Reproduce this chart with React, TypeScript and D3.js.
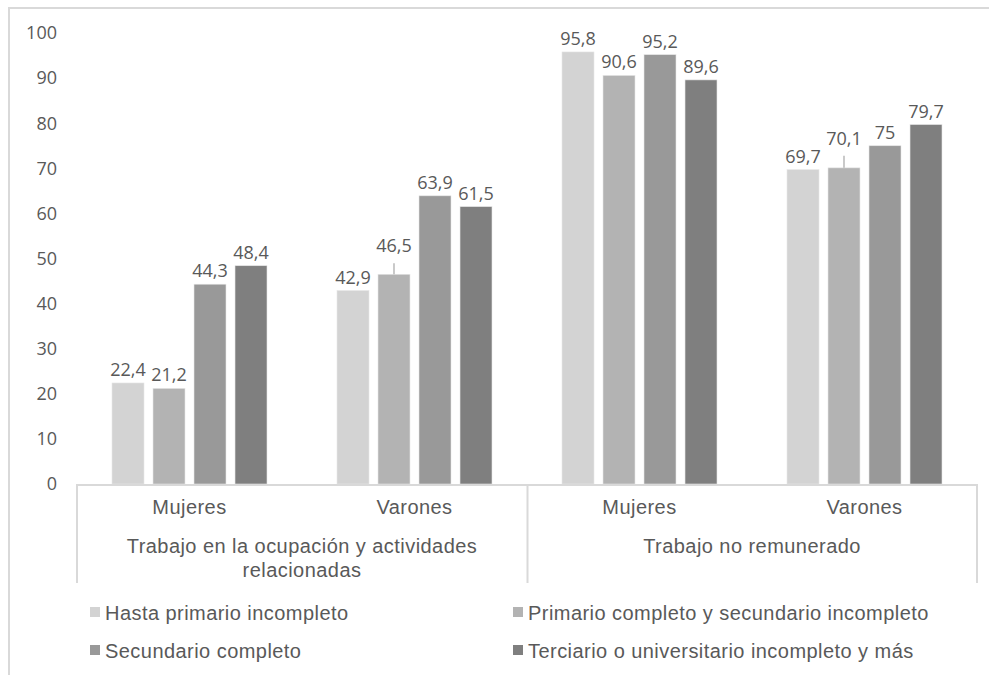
import * as React from 'react';
import * as d3 from 'd3';

// chart data
const groups = ['Trabajo en la ocupación y actividades relacionadas', 'Trabajo no remunerado'];
const categories = ['Mujeres', 'Varones', 'Mujeres', 'Varones'];
const series = [
  'Hasta primario incompleto',
  'Primario completo y secundario incompleto',
  'Secundario completo',
  'Terciario o universitario incompleto y más',
];
const hastaPrimario = [22.4, 42.9, 95.8, 69.7];
const primarioCompleto = [21.2, 46.5, 90.6, 70.1];
const secundarioCompleto = [44.3, 63.9, 95.2, 75];
const terciario = [48.4, 61.5, 89.6, 79.7];
const yTicks = [0, 10, 20, 30, 40, 50, 60, 70, 80, 90, 100];

const colors = ['#d3d3d3', '#b3b3b3', '#999999', '#7f7f7f'];
const values = [hastaPrimario, primarioCompleto, secundarioCompleto, terciario];

// labels pushed up with a leader line (category index - series index)
const raised: Record<string, number> = { '1-1': 15, '3-1': 16 };

const W = 989;
const H = 675;
const left = 77;
const right = 977;
const top = 33;
const bottom = 484;

const numFont = '"Open Sans", sans-serif';
const txtFont = '"Liberation Sans", Arial, sans-serif';
const textColor = '#595959';
const lineColor = '#d9d9d9';

const fmt = (v: number) => String(v).replace('.', ',');

const App: React.FC = () => {
  const x0 = d3.scaleBand<number>().domain(d3.range(categories.length)).range([left, right]);
  const x1 = d3.scaleBand<number>()
    .domain(d3.range(series.length))
    .range([35, x0.bandwidth() - 35])
    .paddingInner(0.22);
  const y = d3.scaleLinear().domain([0, 100]).range([bottom, top]);

  const groupX = d3.scaleBand<number>().domain(d3.range(groups.length)).range([left, right]);

  const sepY = 583;
  const fs = 20;
  const ls = 0.45;

  return (
    <svg width={W} height={H} style={{ position: 'absolute', left: 0, top: 0, background: '#fff' }}>
      <rect x={9} y={8} width={W + 10} height={H + 10} fill="#fff" stroke={lineColor} strokeWidth={2} />

      {/* y axis labels */}
      {yTicks.map((t) => (
        <text key={t} x={57} y={y(t)} dy="0.35em" textAnchor="end" fontFamily={numFont}
          fontSize={18} fill={textColor}>{t}</text>
      ))}

      {/* bars */}
      {categories.map((c, ci) => (
        <g key={ci} transform={`translate(${x0(ci)},0)`}>
          {series.map((s, si) => {
            const v = values[si][ci];
            const bx = x1(si)!;
            const cx = bx + x1.bandwidth() / 2;
            const up = raised[`${ci}-${si}`] || 0;
            return (
              <g key={si}>
                <rect x={bx} y={y(v)} width={x1.bandwidth()} height={bottom - y(v)} fill={colors[si]}
                  stroke="#e6e6e6" strokeWidth={0.6} />
                {up > 0 && (
                  <line x1={cx} x2={cx} y1={y(v) - up + 4} y2={y(v)} stroke="#a6a6a6" strokeWidth={1.2} />
                )}
                <text x={cx} y={y(v) - 7 - up} textAnchor="middle" fontFamily={numFont} fontSize={18}
                  fill={textColor}>{fmt(v)}</text>
              </g>
            );
          })}
        </g>
      ))}

      {/* category axis */}
      <line x1={left} x2={right} y1={bottom + 1} y2={bottom + 1} stroke={lineColor} strokeWidth={2} />
      {[left, (left + right) / 2 + 0.5, right].map((sx, i) => (
        <line key={i} x1={sx} x2={sx} y1={bottom} y2={sepY} stroke={lineColor} strokeWidth={2} />
      ))}
      {categories.map((c, ci) => (
        <text key={ci} x={x0(ci)! + x0.bandwidth() / 2} y={514} textAnchor="middle" fontFamily={txtFont}
          fontSize={fs} fill={textColor} letterSpacing={ls}>{c}</text>
      ))}
      <text x={groupX(0)! + groupX.bandwidth() / 2} y={553} textAnchor="middle" fontFamily={txtFont}
        fontSize={fs} fill={textColor} letterSpacing={ls}>
        <tspan x={groupX(0)! + groupX.bandwidth() / 2}>Trabajo en la ocupación y actividades</tspan>
        <tspan x={groupX(0)! + groupX.bandwidth() / 2} dy={24}>relacionadas</tspan>
      </text>
      <text x={groupX(1)! + groupX.bandwidth() / 2} y={553} textAnchor="middle" fontFamily={txtFont}
        fontSize={fs} fill={textColor} letterSpacing={ls}>{groups[1]}</text>

      {/* legend */}
      {series.map((s, si) => {
        const lx = si % 2 === 0 ? 90 : 513;
        const ly = si < 2 ? 620 : 658;
        return (
          <g key={si}>
            <rect x={lx} y={ly - 13} width={10} height={10} fill={colors[si]} />
            <text x={lx + 15} y={ly} fontFamily={txtFont} fontSize={fs} fill={textColor}
              letterSpacing={ls}>{s}</text>
          </g>
        );
      })}
    </svg>
  );
};

export default App;
